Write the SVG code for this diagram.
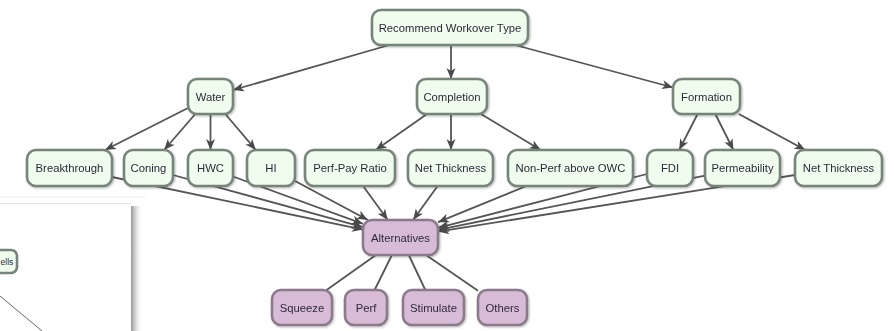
<svg xmlns="http://www.w3.org/2000/svg" width="894" height="331" viewBox="0 0 894 331">
<defs>
<marker id="arr" markerUnits="userSpaceOnUse" markerWidth="12" markerHeight="10" refX="11" refY="5" orient="auto">
<path d="M0,0.5 L11,5 L0,9.5 L3,5 Z" fill="#4a4a4a"/>
</marker>
<linearGradient id="shadow" x1="0" y1="0" x2="1" y2="0">
<stop offset="0" stop-color="#8a8a8a" stop-opacity="0.9"/>
<stop offset="1" stop-color="#ffffff" stop-opacity="0"/>
</linearGradient>
<filter id="ds" x="-10%" y="-10%" width="130%" height="140%">
<feGaussianBlur in="SourceAlpha" stdDeviation="1"/>
<feOffset dx="0.8" dy="1.2"/>
<feComponentTransfer><feFuncA type="linear" slope="0.3"/></feComponentTransfer>
<feMerge><feMergeNode/><feMergeNode in="SourceGraphic"/></feMerge>
</filter>
</defs>
<style>
.n rect{fill:#effcee;stroke:#76857a;stroke-width:2.6}
.a rect{fill:#d8bcd7;stroke:#8b7a8a;stroke-width:2.6}
text{font-family:"Liberation Sans",Arial,sans-serif;font-size:11.3px;fill:#2b2b3a;text-anchor:middle;dominant-baseline:central}
.e line{stroke:#555;stroke-width:1.8}
.e .ar{marker-end:url(#arr)}
</style>
<rect width="894" height="331" fill="#ffffff"/>

<!-- overlapping window in bottom-left corner -->
<g id="overlay">
<line x1="0" y1="197" x2="146" y2="197" stroke="#eeeeee" stroke-width="1"/>
<rect x="131" y="206" width="12" height="125" fill="url(#shadow)"/>
<rect x="0" y="203" width="131" height="128" fill="#ffffff"/>
<line x1="0" y1="203.5" x2="131" y2="203.5" stroke="#e6e6e6" stroke-width="1"/>
<g id="n_wells" class="n"><rect x="-40" y="250" width="57" height="23" rx="6"/><text x="7" y="261.5" style="font-size:8.5px">ells</text></g>
<line x1="0" y1="296" x2="42" y2="331" stroke="#666" stroke-width="1"/>
</g>

<g id="connectors" class="e">
<line class="ar" x1="389.3" y1="45" x2="233" y2="90"/>
<line class="ar" x1="451" y1="45" x2="451" y2="79"/>
<line class="ar" x1="515" y1="45" x2="673" y2="87.5"/>

<line class="ar" x1="188" y1="108" x2="105" y2="150"/>
<line class="ar" x1="195.3" y1="114" x2="164.1" y2="150"/>
<line class="ar" x1="210.5" y1="114" x2="210.5" y2="150"/>
<line class="ar" x1="225.3" y1="114" x2="255.8" y2="150"/>

<line class="ar" x1="427" y1="114" x2="375.7" y2="150"/>
<line class="ar" x1="451" y1="114" x2="451" y2="150"/>
<line class="ar" x1="481" y1="114" x2="540.7" y2="150"/>

<line class="ar" x1="697.6" y1="114" x2="679.2" y2="150"/>
<line class="ar" x1="715.3" y1="114" x2="733.4" y2="150"/>
<line class="ar" x1="738.8" y1="114" x2="805.3" y2="150"/>

<line class="ar" x1="112" y1="177" x2="363" y2="229.6"/>
<line class="ar" x1="173" y1="175" x2="363" y2="227.2"/>
<line class="ar" x1="233" y1="176.5" x2="363" y2="223.8"/>
<line class="ar" x1="295" y1="181" x2="367.9" y2="220"/>
<line class="ar" x1="363.1" y1="186" x2="387.8" y2="220"/>
<line class="ar" x1="437.6" y1="186" x2="413.1" y2="220"/>
<line class="ar" x1="526.5" y1="186" x2="438" y2="222.2"/>
<line class="ar" x1="647" y1="174" x2="438" y2="227.8"/>
<line class="ar" x1="705" y1="175.6" x2="438" y2="229.9"/>
<line class="ar" x1="795" y1="175" x2="438" y2="231.6"/>

<line x1="375.9" y1="255" x2="326.6" y2="290"/>
<line x1="391.9" y1="255" x2="374.6" y2="290"/>
<line x1="408.8" y1="255" x2="425.3" y2="290"/>
<line x1="426" y1="255" x2="478" y2="290.7"/>
</g>

<g id="n_root" class="n" filter="url(#ds)"><rect x="372" y="10" width="156" height="35" rx="9"/><text x="450" y="27.5">Recommend Workover Type</text></g>
<g id="n_water" class="n" filter="url(#ds)"><rect x="188" y="79" width="45" height="35" rx="9"/><text x="210.5" y="96.5">Water</text></g>
<g id="n_completion" class="n" filter="url(#ds)"><rect x="417" y="79" width="70" height="35" rx="9"/><text x="452" y="96.5">Completion</text></g>
<g id="n_formation" class="n" filter="url(#ds)"><rect x="673" y="79" width="67" height="35" rx="9"/><text x="706.5" y="96.5">Formation</text></g>

<g id="n_breakthrough" class="n" filter="url(#ds)"><rect x="27" y="150" width="85" height="36" rx="9"/><text x="69.5" y="168">Breakthrough</text></g>
<g id="n_coning" class="n" filter="url(#ds)"><rect x="124" y="150" width="49" height="36" rx="9"/><text x="148.5" y="168">Coning</text></g>
<g id="n_hwc" class="n" filter="url(#ds)"><rect x="188" y="150" width="45" height="36" rx="9"/><text x="210.5" y="168">HWC</text></g>
<g id="n_hi" class="n" filter="url(#ds)"><rect x="247" y="150" width="48" height="36" rx="9"/><text x="271" y="168">HI</text></g>
<g id="n_perfpay" class="n" filter="url(#ds)"><rect x="305" y="150" width="90" height="36" rx="9"/><text x="350" y="168">Perf-Pay Ratio</text></g>
<g id="n_netthick1" class="n" filter="url(#ds)"><rect x="408" y="150" width="85" height="36" rx="9"/><text x="450.5" y="168">Net Thickness</text></g>
<g id="n_nonperf" class="n" filter="url(#ds)"><rect x="508" y="150" width="125" height="36" rx="9"/><text x="570.5" y="168">Non-Perf above OWC</text></g>
<g id="n_fdi" class="n" filter="url(#ds)"><rect x="647" y="150" width="46" height="36" rx="9"/><text x="670" y="168">FDI</text></g>
<g id="n_perm" class="n" filter="url(#ds)"><rect x="705" y="150" width="75" height="36" rx="9"/><text x="742.5" y="168">Permeability</text></g>
<g id="n_netthick2" class="n" filter="url(#ds)"><rect x="795" y="150" width="87" height="36" rx="9"/><text x="838.5" y="168">Net Thickness</text></g>

<g id="n_alternatives" class="a" filter="url(#ds)"><rect x="363" y="220" width="75" height="35" rx="9"/><text x="400.5" y="237.5">Alternatives</text></g>
<g id="n_squeeze" class="a" filter="url(#ds)"><rect x="272" y="290" width="60" height="35" rx="9"/><text x="302" y="307.5">Squeeze</text></g>
<g id="n_perf" class="a" filter="url(#ds)"><rect x="345" y="290" width="42" height="35" rx="9"/><text x="366" y="307.5">Perf</text></g>
<g id="n_stimulate" class="a" filter="url(#ds)"><rect x="403" y="290" width="61" height="35" rx="9"/><text x="433.5" y="307.5">Stimulate</text></g>
<g id="n_others" class="a" filter="url(#ds)"><rect x="478" y="290" width="49" height="35" rx="9"/><text x="502.5" y="307.5">Others</text></g>
</svg>
